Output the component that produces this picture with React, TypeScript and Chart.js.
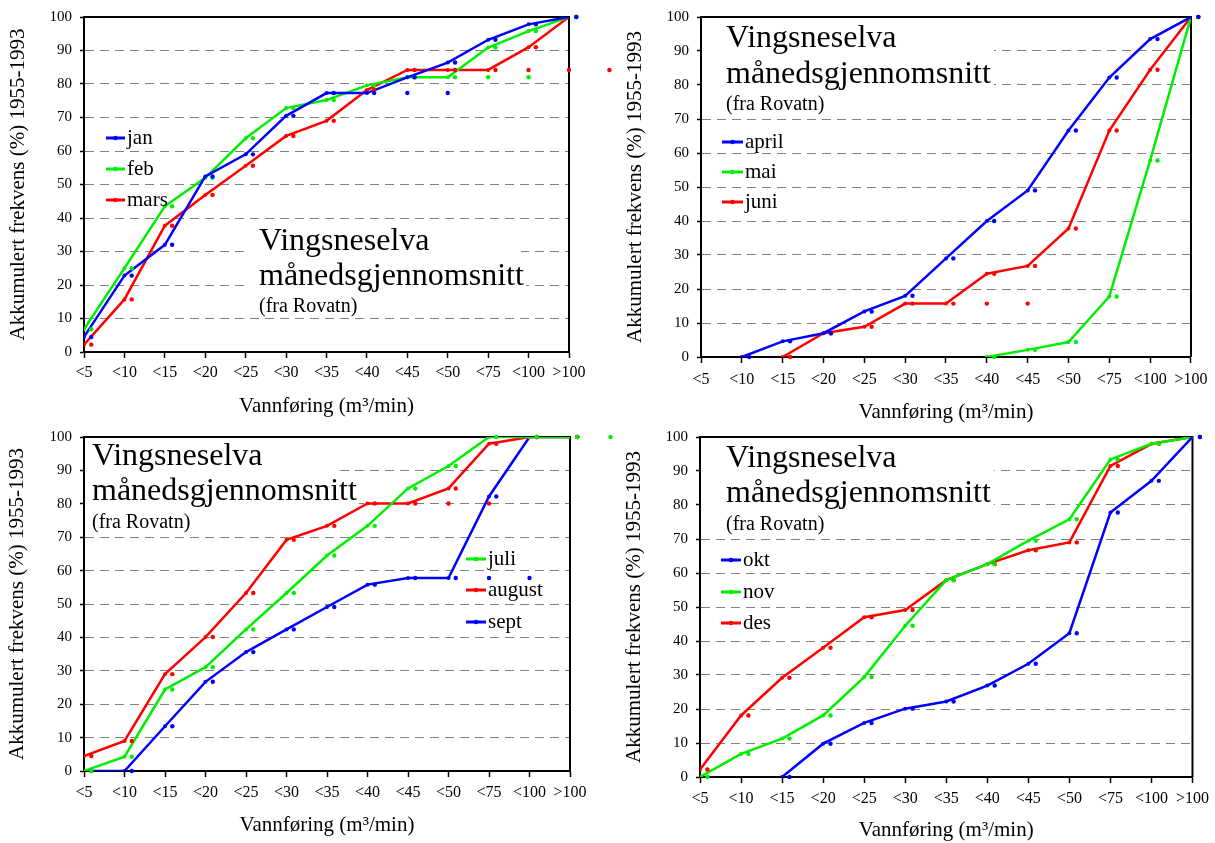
import React, { useEffect, useRef } from 'react';
import { Chart, registerables } from 'chart.js';

Chart.register(...registerables);

// ---------- data ----------
const CATEGORIES = ['<5', '<10', '<15', '<20', '<25', '<30', '<35', '<40', '<45', '<50', '<75', '<100', '>100'];
const X_TITLE = 'Vannføring (m³/min)';
const Y_TITLE = 'Akkumulert frekvens (%) 1955-1993';
const TITLE_LINES = ['Vingsneselva', 'månedsgjennomsnitt', '(fra Rovatn)'];

const JAN = [4.5, 22.8, 32, 52.4, 59, 70.5, 77.3, 77.3, 82, 86.4, 93.2, 97.8, 100];
const FEB = [6.8, 25, 43.5, 52, 63.8, 72.8, 75.2, 79.6, 82, 82, 90.9, 95.8, 100];
const MARS = [2.2, 15.7, 37.7, 46.9, 55.6, 64.5, 69, 78.2, 84.2, 84.2, 84.2, 91, 100];
const JAN_EXTRA: [number, number][] = [[8, 77.3], [9, 77.3]];
const FEB_EXTRA: [number, number][] = [[10, 82], [11, 82]];
const MARS_EXTRA: [number, number][] = [[11, 84.2], [12, 84.2], [13, 84.2]];

const APRIL = [null, 0, 4.6, 7, 13.4, 18, 29, 40, 49, 66.6, 82.2, 93.5, 100];
const MAI = [null, null, null, null, null, null, null, 0, 2.1, 4.4, 17.8, 57.8, 100];
const JUNI = [null, null, 0, 7, 8.9, 15.7, 15.7, 24.5, 26.8, 37.8, 66.6, 84.5, 100];
const JUNI_EXTRA: [number, number][] = [[7, 15.7], [8, 15.7]];

const JULI = [0, 4.3, 24.4, 31.1, 42.4, 53.3, 64.5, 73.4, 84.6, 91.3, 100, 100, 100];
const AUGUST = [4.5, 9, 29, 40.1, 53.3, 69.2, 73.4, 80.1, 80.1, 84.6, 98, 100, 100];
const SEPT = [0, 0, 13.4, 26.7, 35.6, 42.4, 49.1, 55.8, 57.8, 57.8, 82.2, 100, 100];
const JULI_EXTRA: [number, number][] = [[13, 100]];
const AUGUST_EXTRA: [number, number][] = [[9, 80.1], [10, 80.1]];
const SEPT_EXTRA: [number, number][] = [[10, 57.8], [11, 57.8]];

const OKT = [null, null, 0, 9.8, 15.9, 20.1, 22.2, 26.9, 33.3, 42.3, 77.8, 87.1, 100];
const NOV = [0, 6.8, 11.3, 18.1, 29.4, 44.5, 57.9, 62.6, 69.5, 75.8, 93.4, 98, 100];
const DES = [2.2, 18.1, 29.2, 38, 47, 49.1, 57.9, 62.6, 66.7, 69, 91.5, 98, 100];

// ---------- style ----------
const FONT = "'Liberation Serif', 'Times New Roman', serif";
const BLUE = '#0000ff';
const GREEN = '#00ee00';
const RED = '#ff0000';
const DOT_SHIFT = 0.18;
const DOT_R = 2.2;

type Series = { label: string; values: (number | null)[]; color: string; extra?: [number, number][] };
type Panel = {
  left: number; top: number; width: number; height: number;
  plot: { l: number; t: number; r: number; b: number };
  series: Series[];
  textX: number; baselines: number[]; box: [number, number, number, number];
  legend: { x1: number; x2: number; tx: number; ys: number[] };
  yTitleX: number; xTitleY: number; xTickPad: number;
};

const PANELS: Panel[] = [
  {
    left: 0, top: 0, width: 615, height: 425,
    plot: { l: 84, t: 17, r: 569, b: 352 },
    series: [
      { label: 'jan', values: JAN, color: BLUE, extra: JAN_EXTRA },
      { label: 'feb', values: FEB, color: GREEN, extra: FEB_EXTRA },
      { label: 'mars', values: MARS, color: RED, extra: MARS_EXTRA },
    ],
    textX: 259, baselines: [250, 285, 312], box: [249, 222, 521, 316],
    legend: { x1: 106, x2: 125, tx: 127, ys: [138, 169, 200] },
    yTitleX: 18, xTitleY: 406, xTickPad: 5.5,
  },
  {
    left: 607, top: 0, width: 608, height: 425,
    plot: { l: 701, t: 16, r: 1193, b: 357 },
    series: [
      { label: 'april', values: APRIL, color: BLUE },
      { label: 'mai', values: MAI, color: GREEN },
      { label: 'juni', values: JUNI, color: RED, extra: JUNI_EXTRA },
    ],
    textX: 726, baselines: [47, 83, 110], box: [702, 17, 994, 115],
    legend: { x1: 722, x2: 743, tx: 745, ys: [142, 172, 202] },
    yTitleX: 635, xTitleY: 412, xTickPad: 7.5,
  },
  {
    left: 0, top: 420, width: 615, height: 423,
    plot: { l: 84, t: 436, r: 570, b: 771 },
    series: [
      { label: 'juli', values: JULI, color: GREEN, extra: JULI_EXTRA },
      { label: 'august', values: AUGUST, color: RED, extra: AUGUST_EXTRA },
      { label: 'sept', values: SEPT, color: BLUE, extra: SEPT_EXTRA },
    ],
    textX: 92, baselines: [465, 500, 528], box: [85, 437, 335, 533],
    legend: { x1: 466, x2: 486, tx: 488, ys: [559, 590, 622] },
    yTitleX: 17.5, xTitleY: 825, xTickPad: 6,
  },
  {
    left: 607, top: 420, width: 608, height: 423,
    plot: { l: 700, t: 436, r: 1193, b: 777 },
    series: [
      { label: 'okt', values: OKT, color: BLUE },
      { label: 'nov', values: NOV, color: GREEN },
      { label: 'des', values: DES, color: RED },
    ],
    textX: 726, baselines: [467, 502, 530], box: [701, 437, 994, 535],
    legend: { x1: 721, x2: 741, tx: 743, ys: [560, 592, 623] },
    yTitleX: 634, xTitleY: 832, xTickPad: 6,
  },
];

function buildConfig(p: Panel): any {
  const ox = p.left;
  const oy = p.top;
  const datasets: any[] = [];
  const n = p.series.length;
  p.series.forEach((s) => {
    const pts = s.values
      .map((v, k) => (v == null ? null : { x: k, y: v }))
      .filter((d) => d !== null);
    datasets.push({
      label: s.label,
      data: pts,
      borderColor: s.color,
      backgroundColor: s.color,
      borderWidth: 2.5,
      pointRadius: 2,
      pointBorderWidth: 0,
      pointBackgroundColor: s.color,
      tension: 0,
      order: 0,
    });
  });
  p.series.forEach((s) => {
    const pts: any[] = s.values
      .map((v, k) => (v == null ? null : { x: k + DOT_SHIFT, y: v }))
      .filter((d) => d !== null);
    (s.extra || []).forEach(([k, v]) => pts.push({ x: k, y: v }));
    datasets.push({
      label: s.label + ' punkter',
      data: pts,
      showLine: false,
      borderColor: s.color,
      backgroundColor: s.color,
      pointRadius: DOT_R,
      pointBorderWidth: 0,
      pointBackgroundColor: s.color,
      clip: false,
      order: -1,
    });
  });

  const xTitleSize = 21;
  const yTitleSize = 21;
  const xPadBottom = Math.max(0, oy + p.height - p.xTitleY - xTitleSize * 0.6);
  const yPadTop = Math.max(0, p.yTitleX - ox - yTitleSize * 0.6);

  const overlay = {
    id: 'overlay',
    beforeDatasetsDraw(chart: any) {
      const ctx = chart.ctx;
      const ca = chart.chartArea;
      ctx.save();
      ctx.fillStyle = '#ffffff';
      const [bx1, by1, bx2, by2] = p.box;
      ctx.fillRect(bx1 - ox, by1 - oy, bx2 - bx1, by2 - by1);
      ctx.textBaseline = 'alphabetic';
      ctx.textAlign = 'left';
      TITLE_LINES.forEach((line, i) => {
        const size = i < 2 ? 32 : 20;
        ctx.font = `${size}px ${FONT}`;
        const w = ctx.measureText(line).width;
        const x = p.textX - ox;
        const y = p.baselines[i] - oy;
        ctx.fillStyle = '#ffffff';
        ctx.fillRect(x - 2, y - size * 0.78, w + 4, size * 1.0);
        ctx.fillStyle = '#000';
        ctx.fillText(line, x, y);
      });
      ctx.strokeStyle = '#000';
      ctx.lineWidth = 2;
      ctx.beginPath();
      ctx.moveTo(ca.left, ca.top);
      ctx.lineTo(ca.right, ca.top);
      ctx.lineTo(ca.right, ca.bottom);
      ctx.stroke();
      ctx.restore();
    },
    afterDatasetsDraw(chart: any) {
      const ctx = chart.ctx;
      const xs = chart.scales.x;
      const ys = chart.scales.y;
      ctx.save();
      // dots lying beyond the last category (Chart.js skips points outside the plot area)
      for (let i = n - 1; i >= 0; i--) {
        const ds = chart.data.datasets[n + i];
        ctx.fillStyle = p.series[i].color;
        ds.data.forEach((d: any) => {
          if (d.x > 12) {
            ctx.beginPath();
            ctx.arc(xs.getPixelForValue(d.x), ys.getPixelForValue(d.y), DOT_R, 0, Math.PI * 2);
            ctx.fill();
          }
        });
      }
      // legend
      p.series.forEach((s, i) => {
        const y = p.legend.ys[i] - oy;
        const x1 = p.legend.x1 - ox;
        const x2 = p.legend.x2 - ox;
        ctx.strokeStyle = s.color;
        ctx.lineWidth = 3;
        ctx.beginPath();
        ctx.moveTo(x1, y);
        ctx.lineTo(x2, y);
        ctx.stroke();
        ctx.fillStyle = s.color;
        ctx.beginPath();
        ctx.arc((x1 + x2) / 2, y, 2.2, 0, Math.PI * 2);
        ctx.fill();
        ctx.fillStyle = '#000';
        ctx.font = `21px ${FONT}`;
        ctx.textBaseline = 'middle';
        ctx.textAlign = 'left';
        ctx.fillText(s.label, p.legend.tx - ox, y);
      });
      ctx.restore();
    },
  };

  return {
    type: 'line',
    data: { datasets },
    plugins: [overlay],
    options: {
      responsive: false,
      animation: false,
      devicePixelRatio: 1,
      layout: { padding: { left: 0, top: p.plot.t - oy, right: ox + p.width - p.plot.r, bottom: 0 } },
      plugins: { legend: { display: false }, tooltip: { enabled: false }, title: { display: false } },
      scales: {
        x: {
          type: 'linear',
          min: 0,
          max: 12,
          afterFit: (sc: any) => { sc.height = oy + p.height - p.plot.b; },
          grid: { drawOnChartArea: false, drawTicks: true, tickLength: 6, tickColor: '#000', tickWidth: 1.5, tickBorderDash: [] },
          border: { display: true, color: '#000', width: 2 },
          ticks: {
            stepSize: 1,
            autoSkip: false,
            maxRotation: 0,
            padding: p.xTickPad,
            color: '#000',
            font: { family: FONT, size: 16 },
            callback: (v: any) => CATEGORIES[v] ?? '',
          },
          title: {
            display: true,
            text: X_TITLE,
            color: '#000',
            font: { family: FONT, size: xTitleSize },
            padding: { top: 0, bottom: xPadBottom },
          },
        },
        y: {
          min: 0,
          max: 100,
          afterFit: (sc: any) => { sc.width = p.plot.l - ox; },
          ticks: { stepSize: 10, padding: 8, color: '#000', font: { family: FONT, size: 15 } },
          grid: {
            color: (c: any) => (c.tick && (c.tick.value === 0 || c.tick.value === 100) ? 'rgba(0,0,0,0)' : '#808080'),
            lineWidth: 1,
            tickLength: 4,
            tickColor: '#000',
            tickWidth: 1.5,
            tickBorderDash: [],
          },
          border: { display: true, color: '#000', width: 2, dash: [9, 6] },
          title: {
            display: true,
            text: Y_TITLE,
            color: '#000',
            font: { family: FONT, size: yTitleSize },
            padding: { top: yPadTop, bottom: 0 },
          },
        },
      },
    },
  };
}

function PanelChart({ panel }: { panel: Panel }) {
  const ref = useRef<HTMLCanvasElement | null>(null);
  useEffect(() => {
    if (!ref.current) return;
    const chart = new Chart(ref.current, buildConfig(panel));
    return () => chart.destroy();
  }, [panel]);
  return (
    <canvas
      ref={ref}
      width={panel.width}
      height={panel.height}
      style={{ position: 'absolute', left: panel.left, top: panel.top, width: panel.width, height: panel.height }}
    />
  );
}

export default function App() {
  return (
    <div style={{ position: 'absolute', left: 0, top: 0, width: 1215, height: 843, background: '#fff', overflow: 'hidden' }}>
      {PANELS.map((p, i) => (
        <PanelChart key={i} panel={p} />
      ))}
    </div>
  );
}
